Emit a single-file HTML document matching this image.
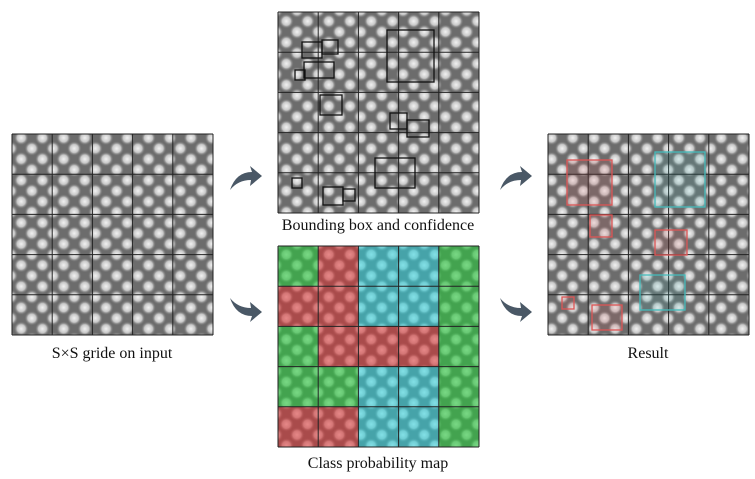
<!DOCTYPE html>
<html><head><meta charset="utf-8"><style>
html,body{margin:0;padding:0;background:#fff;width:755px;height:479px;overflow:hidden}
svg{display:block}
text{font-family:"Liberation Serif",serif;font-size:16px;fill:#111}
</style></head><body>
<svg width="755" height="479" viewBox="0 0 755 479">
<defs>
<radialGradient id="blob"><stop offset="0" stop-color="#f2f2f2"/><stop offset="0.55" stop-color="#c8c8c8"/><stop offset="1" stop-color="#6a6a6a" stop-opacity="0"/></radialGradient>
<pattern id="tex" width="15" height="15" patternUnits="userSpaceOnUse" patternTransform="rotate(45)">
<rect width="15" height="15" fill="#6c6c6c"/><circle cx="7.5" cy="7.5" r="7.5" fill="url(#blob)"/>
</pattern>
</defs>
<g id="imgs"></g>
<g fill="#4a5866">
<path d="M230 190 Q236 172 252 172 L250 166 L262 176 L250 186 L251 180 Q238 180 230 190Z"/>
<path d="M230 298 Q236 316 252 316 L250 322 L262 312 L250 302 L251 308 Q238 308 230 298Z"/>
<path d="M500 190 Q506 172 522 172 L520 166 L532 176 L520 186 L521 180 Q508 180 500 190Z"/>
<path d="M500 298 Q506 316 522 316 L520 322 L532 312 L520 302 L521 308 Q508 308 500 298Z"/>
</g>
<text x="112" y="358" text-anchor="middle">S×S gride on input</text>
<text x="378" y="230" text-anchor="middle">Bounding box and confidence</text>
<text x="378" y="468" text-anchor="middle">Class probability map</text>
<text x="648" y="358" text-anchor="middle">Result</text>
</svg>
<script>
const NS='http://www.w3.org/2000/svg';
const g=document.getElementById('imgs');
const panels=[['input-grid',12,134],['bbox-panel',278,12],['class-map',278,246],['result-panel',548,134]];
const classColors=[['g','r','c','c','g'],['r','r','c','c','g'],['g','r','r','r','g'],['g','g','c','c','g'],['r','r','c','c','g']];
const colMap={g:'rgba(40,200,60,0.6)',r:'rgba(220,50,50,0.55)',c:'rgba(40,210,220,0.55)'};
const bboxes=[[302,42,20,16],[322,40,16,14],[304,62,30,16],[295,70,10,10],[320,95,22,20],[387,30,47,52],[390,113,17,16],[407,120,22,17],[292,178,10,10],[323,187,20,18],[343,189,12,12],[375,158,40,30]];
const resBoxes=[[567,160,45,45,'#d55'],[590,215,22,22,'#d55'],[655,230,32,25,'#d55'],[562,297,12,12,'#d55'],[592,305,30,25,'#d55'],[655,152,50,55,'#4bb'],[640,275,45,35,'#4bb']];
function mk(t,a){const e=document.createElementNS(NS,t);for(const k in a)e.setAttribute(k,a[k]);return e;}
const S=201,c=S/5;
panels.forEach(([n,x,y])=>{
 const grp=mk('g',{});
 
 
 grp.appendChild(mk('rect',{x:x,y:y,width:S,height:S,fill:'url(#tex)'}));
 if(n==='class-map'){for(let r=0;r<5;r++)for(let k=0;k<5;k++){const cell=mk('rect',{x:x+k*c,y:y+r*c,width:c,height:c,fill:colMap[classColors[r][k]]});
  
  grp.appendChild(cell);}}
 for(let i=0;i<=5;i++){grp.appendChild(mk('line',{x1:x+i*c,y1:y,x2:x+i*c,y2:y+S,stroke:'#222','stroke-width':1}));grp.appendChild(mk('line',{x1:x,y1:y+i*c,x2:x+S,y2:y+i*c,stroke:'#222','stroke-width':1}));}
 g.appendChild(grp);
});
bboxes.forEach(b=>{const r=mk('rect',{x:b[0],y:b[1],width:b[2],height:b[3],fill:'none',stroke:'#111','stroke-width':1.3});
 
 g.appendChild(r);});
resBoxes.forEach(b=>{const r=mk('rect',{x:b[0],y:b[1],width:b[2],height:b[3],fill:b[4],'fill-opacity':0.15,stroke:b[4],'stroke-width':1.3});
 
 g.appendChild(r);});
</script>
</body></html>
